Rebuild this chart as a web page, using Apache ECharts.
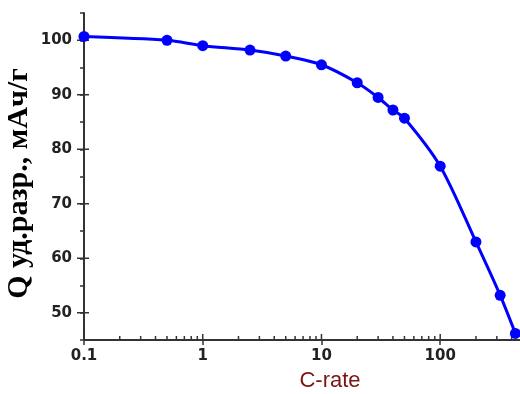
<!DOCTYPE html>
<html>
<head>
<meta charset="utf-8">
<script src="https://cdn.jsdelivr.net/npm/echarts@6/dist/echarts.min.js"></script>
<style>
  html, body { margin: 0; padding: 0; background: #fff; }
  #chart { width: 520px; height: 394px; }
</style>
</head>
<body>
<div id="chart"></div>
<script>
// C-rate values and discharge capacity (mAh/g)
const cRate = [0.1, 0.5, 1, 2.5, 5, 10, 20, 30, 40, 50, 100, 200, 320, 430];
const capacity = [100.7, 100.0, 99.0, 98.2, 97.1, 95.5, 92.2, 89.5, 87.2, 85.7, 76.9, 63.0, 53.2, 46.2];

// axis decoration
const xMajorTicks = [0.1, 1, 10, 100];
const xMinorTicks = [0.2, 0.3, 0.4, 0.5, 0.6, 0.7, 0.8, 0.9,
  2, 3, 4, 5, 6, 7, 8, 9, 20, 30, 40, 50, 60, 70, 80, 90, 200, 300, 400];
const yMajorTicks = [50, 60, 70, 80, 90, 100];

const axisColor = '#333';
const labelFont = { color: '#222', fontFamily: 'DejaVu Sans', fontWeight: 'bold', fontSize: 15 };

const chart = echarts.init(document.getElementById('chart'), null, { renderer: 'canvas' });

// inner halves of major ticks and x minor ticks (ECharts can't do crossing ticks)
function renderTicks(params, api) {
  const children = [];
  const style = { stroke: axisColor, lineWidth: 1.5 };
  xMinorTicks.forEach((v) => {
    const p = api.coord([v, 45]);
    children.push({ type: 'line', shape: { x1: p[0], y1: p[1], x2: p[0], y2: p[1] - 4 }, style });
  });
  xMajorTicks.forEach((v) => {
    const p = api.coord([v, 45]);
    children.push({ type: 'line', shape: { x1: p[0], y1: p[1], x2: p[0], y2: p[1] - 6 }, style });
  });
  yMajorTicks.forEach((v) => {
    const p = api.coord([0.1, v]);
    children.push({ type: 'line', shape: { x1: p[0] - 7, y1: p[1], x2: p[0] + 5, y2: p[1] }, style });
  });
  return { type: 'group', children };
}

chart.setOption({
  animation: false,
  backgroundColor: '#fff',
  grid: { left: 84, right: 0, top: 13, bottom: 54, outerBoundsMode: 'none', containLabel: false },
  xAxis: {
    type: 'log',
    logBase: 10,
    min: 0.1,
    max: 470,
    axisLine: { lineStyle: { color: axisColor, width: 2 } },
    axisTick: { show: true, inside: false, length: 5, lineStyle: { color: axisColor, width: 1.5 } },
    axisLabel: {
      ...labelFont,
      margin: 9,
      showMaxLabel: false,
      formatter: (v) => (xMajorTicks.some((t) => Math.abs(t - v) < 1e-9) ? String(v) : '')
    },
    splitLine: { show: false },
    name: 'C-rate',
    nameLocation: 'middle',
    nameGap: 30,
    nameMoveOverlap: false,
    nameTextStyle: {
      color: '#7a1414', fontFamily: 'Liberation Sans', fontSize: 22,
      padding: [0, 0, 0, 56]
    }
  },
  yAxis: {
    type: 'value',
    min: 45,
    max: 105,
    interval: 5,
    axisLine: { show: true, lineStyle: { color: axisColor, width: 2 } },
    axisTick: { show: true, inside: false, length: 4, lineStyle: { color: axisColor, width: 1.5 } },
    axisLabel: {
      ...labelFont,
      margin: 12,
      formatter: (v) => (v % 10 === 0 ? String(v) : '')
    },
    splitLine: { show: false },
    name: 'Q уд.разр., мАч/г',
    nameLocation: 'middle',
    nameRotate: 90,
    nameGap: 50,
    nameMoveOverlap: false,
    nameTextStyle: {
      color: '#000', fontFamily: 'Liberation Serif', fontWeight: 'bold', fontSize: 30,
      padding: [0, 14, 0, 0]
    }
  },
  series: [
    {
      name: 'Q',
      type: 'line',
      data: cRate.map((x, i) => [x, capacity[i]]),
      smooth: 0.3,
      symbol: 'circle',
      symbolSize: 11,
      lineStyle: { color: '#0000ff', width: 3 },
      itemStyle: { color: '#0000ff' },
      clip: false,
      z: 3
    },
    {
      name: 'ticks',
      type: 'custom',
      renderItem: renderTicks,
      data: [[0.1, 45]],
      silent: true,
      z: 2
    }
  ]
});
</script>
</body>
</html>
